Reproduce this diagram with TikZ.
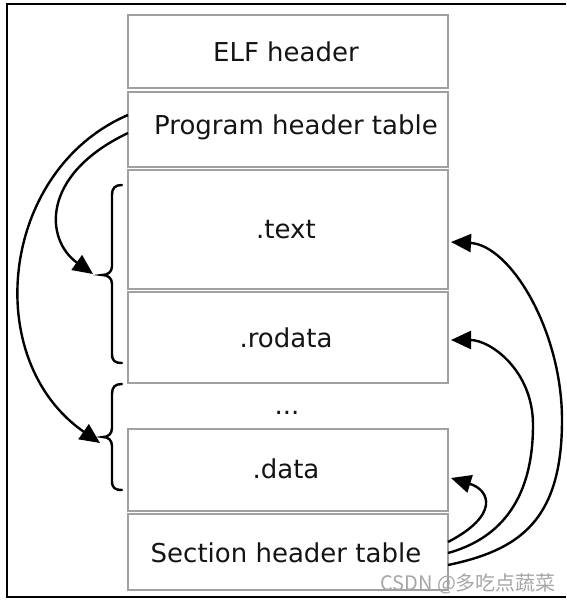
\documentclass[tikz,border=0pt]{standalone}
\usepackage{fontspec}
\setmainfont{DejaVu Sans}
\newfontfamily\cjkfont{Noto Sans CJK SC}
\usetikzlibrary{arrows.meta}
\definecolor{boxgray}{RGB}{160,160,160}
\definecolor{wmgray}{RGB}{165,165,165}
\begin{document}
\begin{tikzpicture}[x=1pt,y=-1pt,
  secbox/.style={draw=boxgray, line width=1.8pt, minimum width=320pt, inner sep=0pt, outer sep=0pt},
  lbl/.style={anchor=base, font=\fontsize{26}{30}\selectfont, text=black!92, inner sep=0pt},
  conn/.style={line width=2.4pt, -{Triangle[length=20pt,width=18pt]}},
  bracepath/.style={line width=2.4pt, line cap=round}]
\useasboundingbox (0,0) rectangle (566,602);
% outer frame (open on the right)
\draw[line width=1.6pt] (566,4) -- (7,4) -- (7,597) -- (566,597);

% section boxes
\node[secbox, minimum height=73pt] (elf) at (288,51.5) {};
\node[secbox, minimum height=75pt] (pht) at (288,129.5) {};
\node[secbox, minimum height=119pt] (text) at (288,229.5) {};
\node[secbox, minimum height=91pt] (rodata) at (288,337.5) {};
\node[secbox, minimum height=82pt] (data) at (288,470) {};
\node[secbox, minimum height=76pt] (sht) at (288,552) {};

% labels
\node[lbl] (elfl) at (286,62) {ELF header};
\node[lbl] (phtl) at (296,134) {Program header table};
\node[lbl] (textl) at (286,238) {.text};
\node[lbl] (rodatal) at (286,347) {.rodata};
\node[lbl] (dotsl) at (287,414) {...};
\node[lbl] (datal) at (286,478) {.data};
\node[lbl] (shtl) at (286,562) {Section header table};

% braces
\draw[bracepath] (122,185) .. controls (115,185) and (112,188) .. (112,195)
  -- (112,266) .. controls (112,272) and (108,275) .. (102,275)
  .. controls (108,275) and (112,278) .. (112,284)
  -- (112,354) .. controls (112,361) and (115,363) .. (122,363);
\draw[bracepath] (122,384) .. controls (115,384) and (112,387) .. (112,394)
  -- (112,428) .. controls (112,434) and (108,437) .. (103,437)
  .. controls (108,437) and (112,440) .. (112,446)
  -- (112,481) .. controls (112,488) and (115,490) .. (122,490);

% connector end points
\coordinate (phtA) at ([yshift=-23pt]pht.north west);
\coordinate (phtB) at ([yshift=-41pt]pht.north west);
\coordinate (brA) at (93,274);
\coordinate (brB) at (100,443);
\coordinate (shtA) at ([yshift=-28pt]sht.north east);
\coordinate (shtB) at ([yshift=-39pt]sht.north east);
\coordinate (shtC) at ([yshift=-51pt]sht.north east);
\coordinate (tipT) at (451,242);
\coordinate (tipR) at (451,340);
\coordinate (tipD) at (451,478);

% left connectors
\draw[conn] (phtB) .. controls (40,175) and (45,240) .. (brA);
\draw[conn] (phtA) .. controls (0,170) and (-20,360) .. (brB);

% right connectors
\draw[conn] (shtC) .. controls (520,550) and (562,520) .. (562,420)
  .. controls (562,330) and (510,245) .. (tipT);
\draw[conn] (shtB) .. controls (495,540) and (533,505) .. (533,425)
  .. controls (533,370) and (490,340) .. (tipR);
\draw[conn] (shtA) .. controls (500,515) and (490,490) .. (tipD);

% watermark
\node[anchor=base west, inner sep=0pt, text=wmgray, font=\cjkfont\fontsize{20}{24}\selectfont] (wm) at (380,590) {CSDN @多吃点蔬菜};
\end{tikzpicture}
\end{document}
